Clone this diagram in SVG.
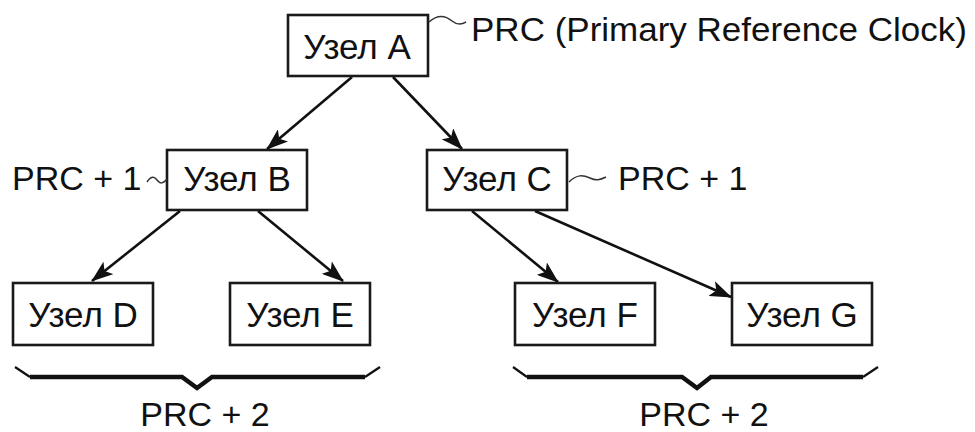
<svg xmlns="http://www.w3.org/2000/svg" width="975" height="432" viewBox="0 0 975 432">
  <style>
    .box { fill: #ffffff; stroke: #1a1a1a; stroke-width: 2.6; }
    .lbl { font-family: "Liberation Sans", Arial, sans-serif; font-size: 34px; fill: #111111; }
    .node-text { text-anchor: middle; font-size: 35px; }
    .mid { text-anchor: middle; }
    .edge { stroke: #111111; stroke-width: 2.6; fill: none; marker-end: url(#arrow); }
    .tilde { stroke: #333333; stroke-width: 1.5; fill: none; }
    .brace { stroke: #111111; stroke-width: 4.5; fill: none; stroke-linejoin: miter; }
    .brace-end { stroke: #111111; stroke-width: 2.2; fill: none; }
  </style>
  <defs>
    <marker id="arrow" viewBox="0 0 22 16" refX="21" refY="8" markerWidth="22" markerHeight="16" markerUnits="userSpaceOnUse" orient="auto">
      <path d="M0,0 L22,8 L0,16 L5,8 Z" fill="#111111"/>
    </marker>
  </defs>

  <rect width="975" height="432" fill="#ffffff"/>

  <!-- connectors -->
  <g id="connectors">
    <line class="edge" x1="352" y1="77" x2="267" y2="149"/>
    <line class="edge" x1="393" y1="77" x2="462" y2="149"/>
    <line class="edge" x1="180" y1="211" x2="92" y2="281"/>
    <line class="edge" x1="258" y1="211" x2="343" y2="281"/>
    <line class="edge" x1="472" y1="211" x2="558" y2="282"/>
    <line class="edge" x1="535" y1="211" x2="731" y2="297"/>
  </g>

  <!-- nodes -->
  <g id="node-a">
    <rect class="box" x="288" y="15" width="140" height="61"/>
    <text class="lbl node-text" x="357" y="59">Узел A</text>
  </g>
  <g id="node-b">
    <rect class="box" x="167" y="150" width="140" height="60"/>
    <text class="lbl node-text" x="237" y="191">Узел B</text>
  </g>
  <g id="node-c">
    <rect class="box" x="427" y="150" width="140" height="60"/>
    <text class="lbl node-text" x="497" y="191">Узел C</text>
  </g>
  <g id="node-d">
    <rect class="box" x="13" y="283" width="140" height="62"/>
    <text class="lbl node-text" x="83" y="327">Узел D</text>
  </g>
  <g id="node-e">
    <rect class="box" x="230" y="283" width="140" height="62"/>
    <text class="lbl node-text" x="300" y="327">Узел E</text>
  </g>
  <g id="node-f">
    <rect class="box" x="515" y="283" width="140" height="62"/>
    <text class="lbl node-text" x="585" y="327">Узел F</text>
  </g>
  <g id="node-g">
    <rect class="box" x="732" y="283" width="140" height="62"/>
    <text class="lbl node-text" x="802" y="327">Узел G</text>
  </g>

  <!-- stratum labels -->
  <g id="labels">
    <path class="tilde" d="M429,22 C438,14 446,16 452,21 C457,25 461,25 466,22"/>
    <text class="lbl" x="471" y="41" textLength="496" lengthAdjust="spacingAndGlyphs">PRC (Primary Reference Clock)</text>

    <text class="lbl" x="12" y="190">PRC + 1</text>
    <path class="tilde" d="M147,182 C151,176 154,176 157,180 C160,184 163,184 167,179"/>

    <path class="tilde" d="M569,182 C577,174 583,175 590,178 C596,181 600,180 606,177"/>
    <text class="lbl" x="618" y="190">PRC + 1</text>
  </g>

  <!-- group braces -->
  <g id="brace-left">
    <path class="brace-end" d="M15,367 L30,377"/>
    <path class="brace" d="M30,377 L182,377 L197,388 L212,377 L365,377"/>
    <path class="brace-end" d="M365,377 L380,367"/>
    <text class="lbl mid" x="205" y="426">PRC + 2</text>
  </g>
  <g id="brace-right">
    <path class="brace-end" d="M513,367 L527,377"/>
    <path class="brace" d="M527,377 L682,377 L697,388 L711,377 L863,377"/>
    <path class="brace-end" d="M863,377 L878,367"/>
    <text class="lbl mid" x="704" y="426">PRC + 2</text>
  </g>
</svg>
